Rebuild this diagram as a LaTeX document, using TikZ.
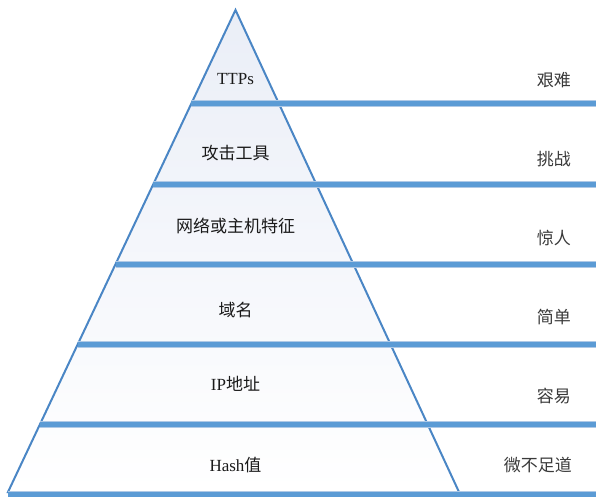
\documentclass[tikz,border=0pt]{standalone}
\usepackage{fontspec}
\usetikzlibrary{calc}
\setmainfont{Liberation Serif}
\newfontfamily\cjk{Noto Sans CJK SC}
\newcommand\zhtext[1]{{\cjk\fontsize{17}{17}\selectfont #1}}
\definecolor{edgeblue}{HTML}{4A86C5}
\definecolor{barblue}{HTML}{5B9BD5}
\definecolor{barlight}{HTML}{AFC9E6}
\definecolor{fillblue}{HTML}{EAEEF7}
\definecolor{txtl}{HTML}{1A1A1A}
\definecolor{txtr}{HTML}{3A3A3A}
\begin{document}
\begin{tikzpicture}[x=1pt,y=-1pt,
  lab/.style={font=\fontsize{17}{17}\selectfont, text=txtl, inner sep=0pt, anchor=base},
  rlab/.style={font=\fontsize{17}{17}\selectfont\cjk, text=txtr, inner sep=0pt, anchor=base east},
  edge/.style={draw=edgeblue, line width=2pt, line join=miter},
  barunder/.style={draw=barlight, line width=7pt},
  barover/.style={draw=barblue, line width=5pt}]
\useasboundingbox (0,0) rectangle (596,496);
\coordinate (apex) at (235.5,10);
\coordinate (bl) at (8,492);
\coordinate (br) at (459,492);
% triangle
\fill[top color=fillblue, bottom color=white] (apex) -- (bl) -- (br) -- cycle;
\draw[edge] (apex) -- (bl) -- (br) -- cycle;
% bar endpoints
\foreach \i/\t/\y in {1/0.195/104, 2/0.361/184, 3/0.527/264, 4/0.693/344, 5/0.859/424}{
  \coordinate (l\i) at ($(apex)!\t!(bl)$);
  \coordinate (r\i) at (596,\y);
}
\coordinate (l6) at (8,494.5);
\coordinate (r6) at (596,494.5);
\foreach \i in {1,...,6}{
  \draw[barunder] (l\i) -- (l\i -| r\i);
}
\foreach \i in {1,...,6}{
  \draw[barover] (l\i) -- (l\i -| r\i);
}
% left labels
\node[lab] (ttps) at (235.5,84) {TTPs};
\node[lab] (tools) at (235.5,159) {\zhtext{攻击工具}};
\node[lab] (host) at (235.5,232) {\zhtext{网络或主机特征}};
\node[lab] (domain) at (235.5,316) {\zhtext{域名}};
\node[lab] (ip) at (235.5,390) {IP\zhtext{地址}};
\node[lab] (hash) at (235.5,471) {Hash\zhtext{值}};
% right labels
\node[rlab] (hard) at (571,86) {艰难};
\node[rlab] (chal) at (571,165) {挑战};
\node[rlab] (anno) at (571,244) {惊人};
\node[rlab] (simp) at (571,323) {简单};
\node[rlab] (easy) at (571,402) {容易};
\node[rlab] (triv) at (572,471) {微不足道};
\end{tikzpicture}
\end{document}
